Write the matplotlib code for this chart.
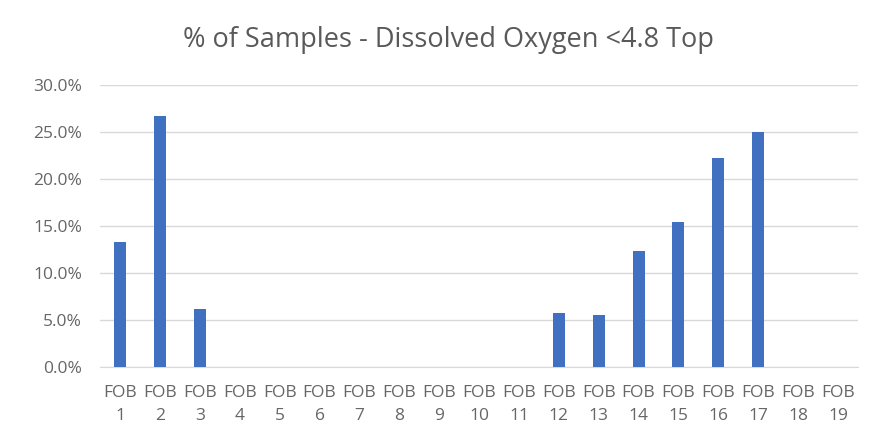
import matplotlib
matplotlib.use("Agg")
import matplotlib.pyplot as plt
from matplotlib.ticker import PercentFormatter

# data
sites = ["FOB\n%d" % i for i in range(1, 20)]
pct_low_do = [13.3, 26.7, 6.2, 0, 0, 0, 0, 0, 0, 0, 0,
              5.8, 5.5, 12.4, 15.4, 22.2, 25.0, 0, 0]
yticks = [0, 5, 10, 15, 20, 25, 30]

plt.rcParams['font.family'] = ['Open Sans', 'DejaVu Sans']

fig = plt.figure(figsize=(8.71, 4.36), dpi=100)
ax = fig.add_axes([0.115, 0.158, 0.870, 0.647])

x = list(range(len(sites)))
ax.bar(x, pct_low_do, width=0.3, color='#4170c0', zorder=3)

ax.set_xlim(-0.5, len(sites) - 0.5)
ax.set_ylim(0, 30)
ax.set_yticks(yticks)
ax.yaxis.set_major_formatter(PercentFormatter(decimals=1))
ax.set_xticks(x)
ax.set_xticklabels(sites, linespacing=1.55)
ax.grid(axis='y', color='#d9d9d9', linewidth=1, zorder=0)
for s in ['top', 'right', 'left']:
    ax.spines[s].set_visible(False)
ax.spines['bottom'].set_color('#d9d9d9')
ax.tick_params(axis='both', length=0, colors='#666666', labelsize=12.5)
ax.tick_params(axis='x', pad=13)
ax.tick_params(axis='y', pad=13)

fig.text(0.515, 0.908, "% of Samples - Dissolved Oxygen <4.8 Top",
         ha='center', va='center', fontsize=19.5, color='#595959')

fig.savefig("out.png", dpi=100, facecolor='white')
